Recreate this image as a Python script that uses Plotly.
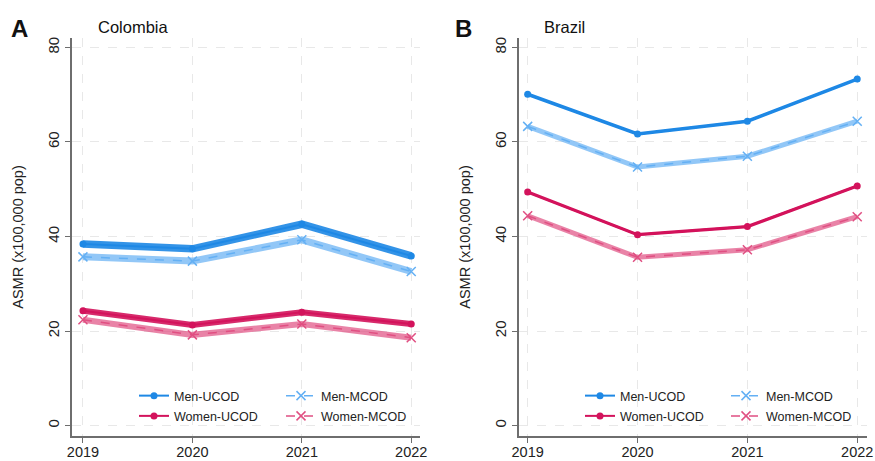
import plotly.graph_objects as go

years = [2019, 2020, 2021, 2022]
year_labels = ["2019", "2020", "2021", "2022"]
y_ticks = [0, 20, 40, 60, 80]

# Colombia ASMR (x100,000 pop)
col_men_ucod = [38.4, 37.4, 42.6, 35.9]
col_men_mcod = [35.7, 34.8, 39.3, 32.6]
col_women_ucod = [24.3, 21.3, 24.0, 21.5]
col_women_mcod = [22.4, 19.2, 21.5, 18.6]

# Brazil ASMR (x100,000 pop)
bra_men_ucod = [70.1, 61.7, 64.4, 73.3]
bra_men_mcod = [63.3, 54.7, 57.0, 64.4]
bra_women_ucod = [49.4, 40.4, 42.1, 50.7]
bra_women_mcod = [44.4, 35.6, 37.2, 44.2]

C_MEN_U = "#1E88E5"
C_MEN_M = "#64B0F4"
C_WOM_U = "#D3135C"
C_WOM_M = "#E04F82"

FONT = "Liberation Sans, Arial, sans-serif"

fig = go.Figure()


def add_series(name, values, color, kind, xa, ya, legend, band_w, line_w, band_op):
    # soft band underneath
    fig.add_trace(go.Scatter(
        x=years, y=values, mode="lines", xaxis=xa, yaxis=ya,
        line=dict(color=color, width=band_w), opacity=band_op,
        showlegend=False, hoverinfo="skip"))
    if kind == "U":
        fig.add_trace(go.Scatter(
            x=years, y=values, mode="lines+markers", name=name, xaxis=xa, yaxis=ya,
            line=dict(color=color, width=line_w),
            marker=dict(symbol="circle", size=7, color=color),
            legend=legend, legendgroup=legend + name))
    else:
        fig.add_trace(go.Scatter(
            x=years, y=values, mode="lines+markers", name=name, xaxis=xa, yaxis=ya,
            line=dict(color=color, width=line_w, dash="dash"),
            marker=dict(symbol="x-thin", size=9, line=dict(color=color, width=1.5)),
            legend=legend, legendgroup=legend + name))


# Colombia (thick bands)
add_series("Men-UCOD", col_men_ucod, C_MEN_U, "U", "x", "y", "legend", 7.5, 2, 0.9)
add_series("Women-UCOD", col_women_ucod, C_WOM_U, "U", "x", "y", "legend", 6, 2, 0.9)
add_series("Men-MCOD", col_men_mcod, C_MEN_M, "M", "x", "y", "legend2", 7, 1.5, 0.7)
add_series("Women-MCOD", col_women_mcod, C_WOM_M, "M", "x", "y", "legend2", 6, 1.5, 0.7)

# Brazil
add_series("Men-UCOD", bra_men_ucod, C_MEN_U, "U", "x2", "y2", "legend3", 3.5, 2, 1.0)
add_series("Women-UCOD", bra_women_ucod, C_WOM_U, "U", "x2", "y2", "legend3", 3.2, 2, 1.0)
add_series("Men-MCOD", bra_men_mcod, C_MEN_M, "M", "x2", "y2", "legend4", 5, 1.5, 0.7)
add_series("Women-MCOD", bra_women_mcod, C_WOM_M, "M", "x2", "y2", "legend4", 5, 1.5, 0.7)

xcommon = dict(
    tickmode="array", tickvals=years, ticktext=year_labels,
    showline=True, linecolor="#6e6e6e", linewidth=1.5,
    ticks="outside", ticklen=5, tickcolor="#6e6e6e",
    showgrid=True, gridcolor="#e8e8e8", griddash="dash", gridwidth=1,
    zeroline=False, automargin=False, ticklabelstandoff=-3,
    tickfont=dict(size=14.5, color="#222", family=FONT),
)
ycommon = dict(
    tickmode="array", tickvals=y_ticks,
    range=[-2.2, 82], showline=True, linecolor="#6e6e6e", linewidth=1.5,
    ticks="outside", ticklen=5, tickcolor="#6e6e6e",
    showgrid=True, gridcolor="#e8e8e8", griddash="dash", gridwidth=1,
    zeroline=False, tickangle=-90, automargin=False,
    tickfont=dict(size=15, color="#222", family=FONT),
    title=dict(text="ASMR (x100,000 pop)", font=dict(size=14.5, color="#222", family=FONT), standoff=18),
)

legcommon = dict(
    orientation="v", xanchor="left", yanchor="top", bgcolor="rgba(0,0,0,0)",
    font=dict(size=12.5, color="#222", family=FONT), tracegroupgap=1,
    traceorder="grouped", itemwidth=30,
)

LY = 1 - 381 / 461

fig.update_layout(
    width=875, height=461,
    margin=dict(l=0, r=0, t=0, b=0),
    plot_bgcolor="white", paper_bgcolor="white",
    font=dict(family=FONT, size=14, color="#222"),
    xaxis=dict(domain=[0.0823, 0.48], range=[2018.9, 2022.08], anchor="y", **xcommon),
    yaxis=dict(domain=[0.0542, 0.9176], anchor="x", **ycommon),
    xaxis2=dict(domain=[0.593, 0.991], range=[2018.92, 2022.09], anchor="y2", **xcommon),
    yaxis2=dict(domain=[0.0542, 0.9176], anchor="x2", **ycommon),
    legend=dict(x=134 / 875, y=LY, **legcommon),
    legend2=dict(x=281 / 875, y=LY, **legcommon),
    legend3=dict(x=580 / 875, y=LY, **legcommon),
    legend4=dict(x=726 / 875, y=LY, **legcommon),
    showlegend=True,
    annotations=[
        dict(text="<b>A</b>", x=9 / 875, y=1 - 28 / 461, xref="paper", yref="paper",
             xanchor="left", yanchor="middle", showarrow=False, font=dict(size=24, color="#111", family=FONT)),
        dict(text="Colombia", x=96 / 875, y=1 - 27 / 461, xref="paper", yref="paper",
             xanchor="left", yanchor="middle", showarrow=False, font=dict(size=16.5, color="#111", family=FONT)),
        dict(text="<b>B</b>", x=453 / 875, y=1 - 28 / 461, xref="paper", yref="paper",
             xanchor="left", yanchor="middle", showarrow=False, font=dict(size=24, color="#111", family=FONT)),
        dict(text="Brazil", x=542 / 875, y=1 - 27 / 461, xref="paper", yref="paper",
             xanchor="left", yanchor="middle", showarrow=False, font=dict(size=16.5, color="#111", family=FONT)),
    ],
)

fig.write_html("out.html", config={"displayModeBar": False},
               post_script="document.body.style.margin='0';")
